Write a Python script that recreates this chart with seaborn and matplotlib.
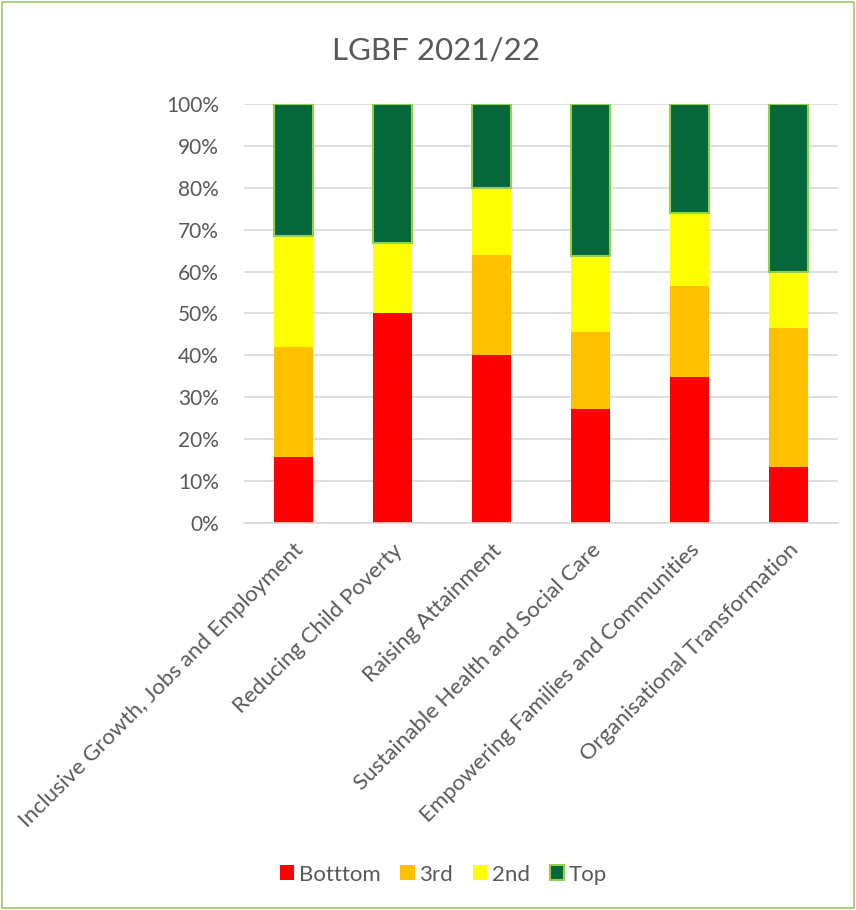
import matplotlib
matplotlib.use("Agg")
import matplotlib.pyplot as plt
import seaborn as sns
import pandas as pd
import numpy as np
from matplotlib.patches import Patch, Rectangle

categories = ["Inclusive Growth, Jobs and Employment", "Reducing Child Poverty",
              "Raising Attainment", "Sustainable Health and Social Care",
              "Empowering Families and Communities", "Organisational Transformation"]
bottom_vals = [15.8, 50.0, 40.0, 27.3, 34.8, 13.3]
third_vals = [26.3, 0.0, 24.0, 18.2, 21.7, 33.3]
second_vals = [26.3, 16.7, 16.0, 18.2, 17.4, 13.3]
top_vals = [31.6, 33.3, 20.0, 36.3, 26.1, 40.1]
series_names = ["Botttom", "3rd", "2nd", "Top"]
yticks = [0, 10, 20, 30, 40, 50, 60, 70, 80, 90, 100]

colors = {"Botttom": "#FF0000", "3rd": "#FFC000", "2nd": "#FFFF00", "Top": "#05683A"}
edge_top = "#92D050"
txt = "#595959"

sns.set_theme(style="white")
plt.rcParams["font.family"] = ["Lato", "DejaVu Sans"]

fig = plt.figure(figsize=(8.56, 9.10), dpi=100)
ax = fig.add_axes([0.285, 0.425, 0.694, 0.461])

vals = [bottom_vals, third_vals, second_vals, top_vals]
df = pd.DataFrame({"cat": categories})
for i, name in enumerate(series_names):
    df[name] = vals[i]

base = np.zeros(len(categories))
for i, name in enumerate(series_names):
    kw = dict(edgecolor=edge_top, linewidth=1.5) if name == "Top" else dict(linewidth=0)
    sns.barplot(data=df, x="cat", y=name, color=colors[name], saturation=1,
                width=0.4, ax=ax, bottom=base.copy(), **kw)
    base = base + np.array(vals[i])

ax.set_ylim(0, 100)
ax.set_xlim(-0.5, 5.5)
ax.set_yticks(yticks)
ax.set_yticklabels([f"{t}%" for t in yticks], color=txt, fontsize=15)
ax.set_xticks(range(len(categories)))
ax.set_xticklabels(categories, rotation=45, ha="right", rotation_mode="anchor",
                   color=txt, fontsize=16)
ax.tick_params(axis="x", pad=12, length=0)
ax.tick_params(axis="y", pad=18, length=0)
ax.set_xlabel("")
ax.set_ylabel("")
ax.yaxis.grid(True, color="#D9D9D9", linewidth=1.2)
ax.set_axisbelow(True)
for s in ["top", "right", "left"]:
    ax.spines[s].set_visible(False)
ax.spines["bottom"].set_color("#D9D9D9")
ax.spines["bottom"].set_linewidth(1.2)

fig.text(0.51, 0.945, "LGBF 2021/22", ha="center", va="center", fontsize=22.5, color=txt)

handles = [Patch(facecolor=colors[n], edgecolor=(edge_top if n == "Top" else colors[n]),
                 linewidth=(1.5 if n == "Top" else 0)) for n in series_names]
fig.legend(handles, series_names, loc="center", bbox_to_anchor=(0.518, 0.039), ncol=4,
           frameon=False, fontsize=16, labelcolor=txt, handlelength=0.65,
           handleheight=0.65, handletextpad=0.2, columnspacing=0.9)

fig.patches.append(Rectangle((0.002, 0.002), 0.996, 0.996, transform=fig.transFigure,
                             fill=False, edgecolor="#9BC86A", linewidth=1.2))

fig.savefig("out.png", dpi=100)
